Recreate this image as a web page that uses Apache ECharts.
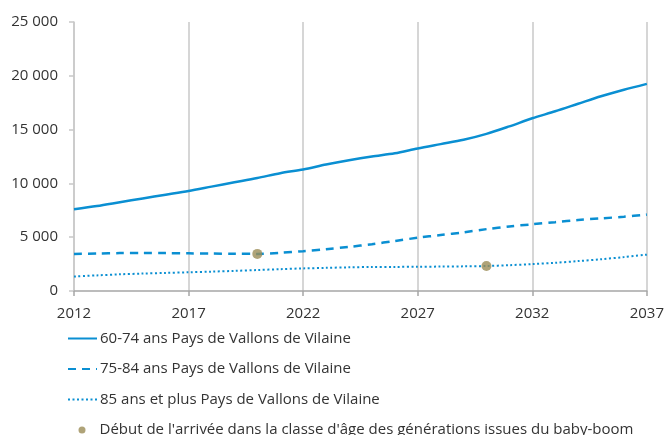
<!DOCTYPE html>
<html>
<head>
<meta charset="utf-8">
<script src="https://cdn.jsdelivr.net/npm/echarts@6/dist/echarts.min.js"></script>
<style>
  html, body { margin: 0; padding: 0; background: #fff; }
  #chart { width: 667px; height: 435px; }
</style>
</head>
<body>
<div id="chart"></div>
<script>
/* données */
var years = ['2012','2013','2014','2015','2016','2017','2018','2019','2020','2021','2022','2023','2024',
             '2025','2026','2027','2028','2029','2030','2031','2032','2033','2034','2035','2036','2037'];
var ans6074 = [7600,7900,8250,8600,8950,9300,9700,10100,10500,10950,11300,11750,12150,
               12500,12800,13250,13650,14050,14600,15300,16050,16700,17400,18100,18700,19250];
var ans7584 = [3450,3480,3520,3530,3520,3500,3480,3460,3450,3550,3700,3880,4100,
               4350,4650,4950,5200,5450,5750,6000,6200,6400,6600,6750,6900,7100];
var ans85plus = [1350,1450,1550,1620,1680,1740,1800,1870,1950,2030,2100,2150,2200,
                 2230,2240,2250,2270,2290,2320,2400,2500,2620,2780,2950,3150,3380];
var babyBoom = [['2020', 3450], ['2030', 2320]];

var seriesNames = ['60-74 ans Pays de Vallons de Vilaine',
                   '75-84 ans Pays de Vallons de Vilaine',
                   '85 ans et plus Pays de Vallons de Vilaine'];
var markerName = "Début de l'arrivée dans la classe d'âge des générations issues du baby-boom";

var blue = '#0a8fd2';
var olive = '#9b8c56';
var font = '"Open Sans", "Noto Sans", sans-serif';

var myChart = echarts.init(document.getElementById('chart'));
var option = {
    animation: false,
    textStyle: { fontFamily: font },
    grid: { left: 74, right: 16, top: 22, bottom: 144 },
    legend: [
        {
            data: seriesNames,
            orient: 'vertical',
            left: 67,
            top: 330,
            padding: 0,
            itemWidth: 29,
            itemHeight: 4,
            itemGap: 13.5,
            itemStyle: { opacity: 0 },
            textStyle: { fontSize: 15, color: '#333', padding: [0, 0, 0, -2], fontFamily: font, lineHeight: 17 }
        },
        {
            data: [{ name: markerName, icon: 'circle' }],
            orient: 'vertical',
            left: 78.5,
            top: 421.5,
            padding: 0,
            itemWidth: 7,
            itemHeight: 7,
            itemGap: 10,
            textStyle: { fontSize: 15, color: '#333', padding: [0, 0, 0, 9], fontFamily: font, lineHeight: 17 }
        }
    ],
    xAxis: {
        type: 'category',
        boundaryGap: false,
        data: years,
        axisLine: { lineStyle: { color: '#a6a6a6', width: 1.5 } },
        axisTick: { interval: 4, length: 5, lineStyle: { color: '#a6a6a6', width: 1.5 } },
        axisLabel: { interval: 4, fontSize: 15, color: '#333', margin: 15, fontFamily: font },
        splitLine: { show: true, interval: 4, lineStyle: { color: '#c8c8c8', width: 1.5 } }
    },
    yAxis: {
        type: 'value',
        min: 0,
        max: 25000,
        interval: 5000,
        axisLine: { show: true, lineStyle: { color: '#c8c8c8', width: 1.5 } },
        axisTick: { show: true, length: 5, lineStyle: { color: '#c8c8c8', width: 1.5 } },
        axisLabel: {
            fontSize: 15, color: '#333', margin: 16, fontFamily: font,
            formatter: function (v) { return String(v).replace(/\B(?=(\d{3})+(?!\d))/g, ' '); }
        },
        splitLine: { show: false }
    },
    series: [
        {
            name: seriesNames[0], type: 'line', data: ans6074, smooth: 0.3,
            symbol: 'none', color: blue,
            lineStyle: { color: blue, width: 2.5 }
        },
        {
            name: seriesNames[1], type: 'line', data: ans7584, smooth: 0.3,
            symbol: 'none', color: blue,
            lineStyle: { color: blue, width: 2.5, type: [8, 6] }
        },
        {
            name: seriesNames[2], type: 'line', data: ans85plus, smooth: 0.3,
            symbol: 'none', color: blue,
            lineStyle: { color: blue, width: 2, type: [2, 2.5] }
        },
        {
            name: markerName, type: 'scatter', data: babyBoom,
            symbolSize: 10, color: olive, z: 5,
            itemStyle: { color: olive }
        }
    ]
};
myChart.setOption(option);
</script>
</body>
</html>
